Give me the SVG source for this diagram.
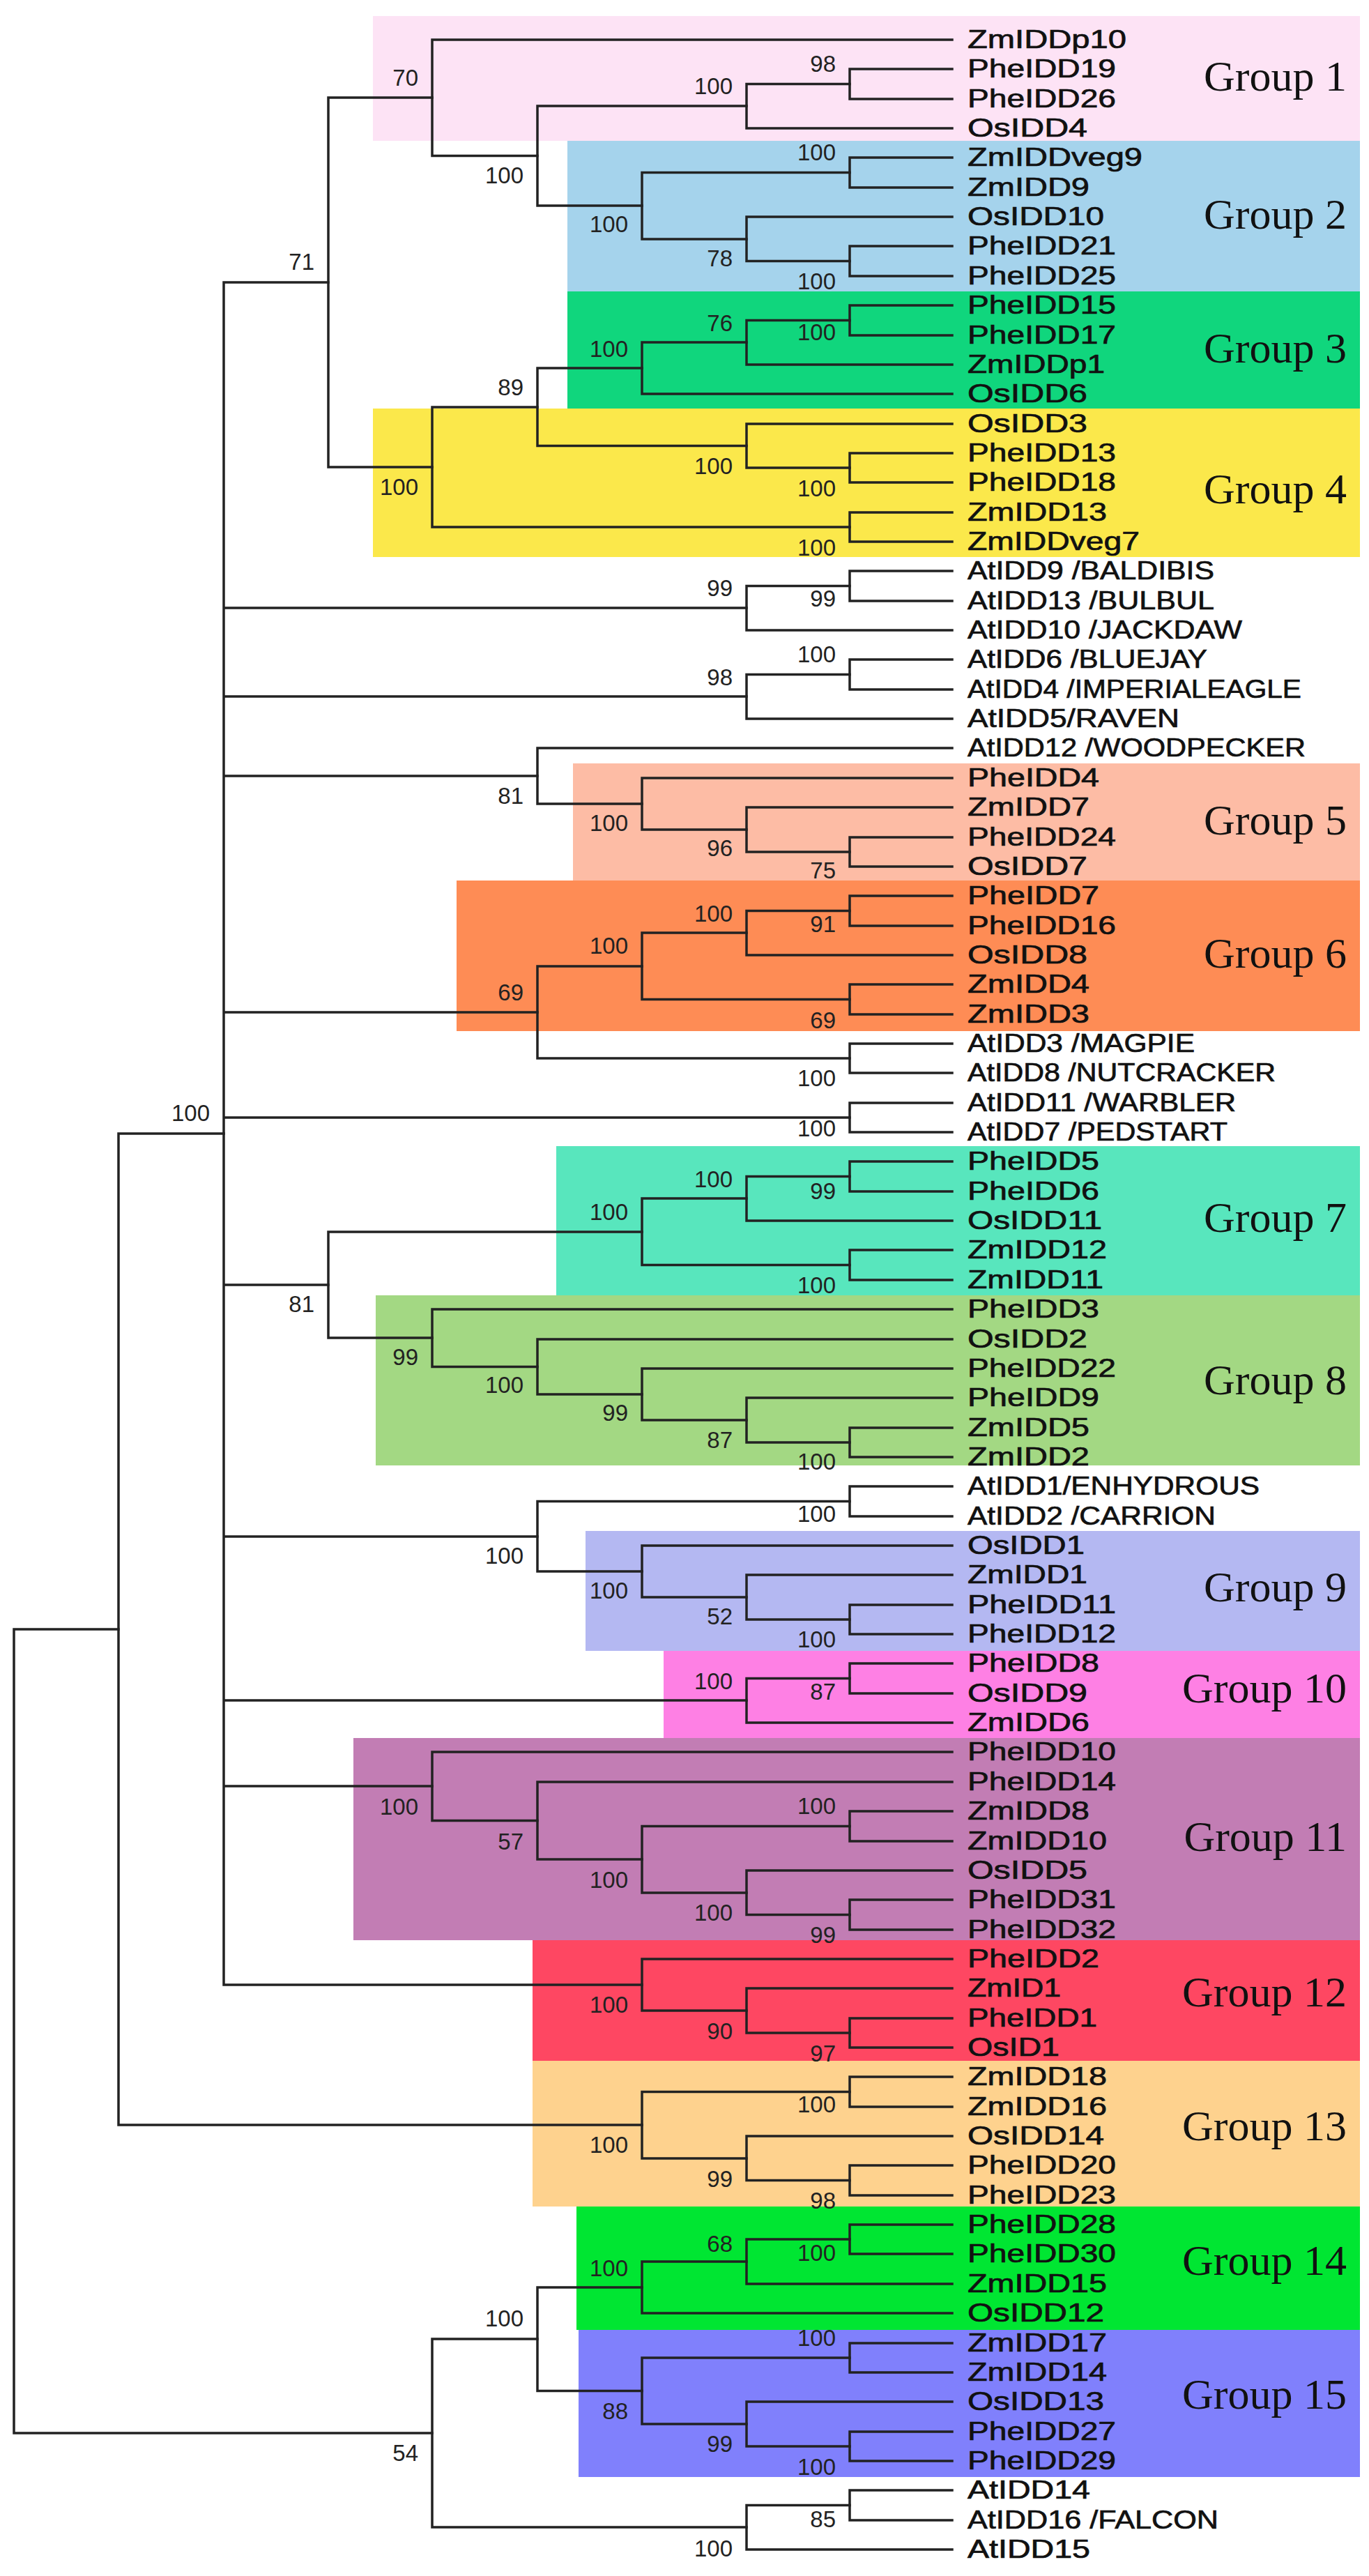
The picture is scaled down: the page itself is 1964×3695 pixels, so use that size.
<svg xmlns="http://www.w3.org/2000/svg" width="1964" height="3695" viewBox="0 0 1964 3695">
<style>
.br{fill:none;stroke:#222;stroke-width:3.5;stroke-linecap:square}
.bs{font-family:"Liberation Sans",Arial,sans-serif;font-size:33px;fill:#222;text-anchor:end}
.lf{font-family:"Liberation Sans",Arial,sans-serif;font-size:36px;fill:#111;stroke:#111;stroke-width:0.7}
.gl{font-family:"Liberation Serif","Times New Roman",serif;font-size:62px;fill:#111;text-anchor:end}
</style>
<rect width="1964" height="3695" fill="#fff"/>
<g id="boxes">
<rect id="box1" x="535" y="23" width="1416" height="179" fill="#fde3f5"/>
<rect id="box2" x="814" y="202" width="1137" height="216" fill="#a5d3ec"/>
<rect id="box3" x="814" y="418" width="1137" height="168" fill="#10d67d"/>
<rect id="box4" x="535" y="586" width="1416" height="213" fill="#fbe84b"/>
<rect id="box5" x="822" y="1095" width="1129" height="168" fill="#fdbca5"/>
<rect id="box6" x="655" y="1263" width="1296" height="216" fill="#fe8c55"/>
<rect id="box7" x="798" y="1644" width="1153" height="214" fill="#58e6bd"/>
<rect id="box8" x="539" y="1858" width="1412" height="244" fill="#a3d883"/>
<rect id="box9" x="840" y="2196" width="1111" height="172" fill="#b4b8f2"/>
<rect id="box10" x="952" y="2368" width="999" height="125" fill="#fe80e4"/>
<rect id="box11" x="507" y="2493" width="1444" height="290" fill="#c27db4"/>
<rect id="box12" x="764" y="2783" width="1187" height="173" fill="#fe4762"/>
<rect id="box13" x="764" y="2956" width="1187" height="209" fill="#fed28e"/>
<rect id="box14" x="827" y="3165" width="1124" height="177" fill="#00e632"/>
<rect id="box15" x="830" y="3342" width="1121" height="211" fill="#8080fc"/>
</g>
<g id="connectors" class="br">
<path d="M1366 99H1219V142H1366"/>
<path d="M1219 120.5H1071V184H1366"/>
<path d="M1366 226H1219V269H1366"/>
<path d="M1366 353H1219V396H1366"/>
<path d="M1366 311H1071V374.5H1219"/>
<path d="M1219 247.5H921V343H1071"/>
<path d="M1071 152H771V295H921"/>
<path d="M1366 57H620V223.5H771"/>
<path d="M1366 438H1219V481H1366"/>
<path d="M1219 459.5H1071V523H1366"/>
<path d="M1071 491H921V565H1366"/>
<path d="M1366 650H1219V692H1366"/>
<path d="M1366 608H1071V671H1219"/>
<path d="M921 528H771V639.5H1071"/>
<path d="M1366 735H1219V777H1366"/>
<path d="M771 584H620V756H1219"/>
<path d="M620 140H471V670H620"/>
<path d="M1366 819H1219V862H1366"/>
<path d="M1219 840.5H1071V904H1366"/>
<path d="M1366 946H1219V989H1366"/>
<path d="M1219 967.5H1071V1031H1366"/>
<path d="M1366 1201H1219V1243H1366"/>
<path d="M1366 1158H1071V1222H1219"/>
<path d="M1366 1116H921V1190H1071"/>
<path d="M1366 1073H771V1153H921"/>
<path d="M1366 1285H1219V1328H1366"/>
<path d="M1219 1306.5H1071V1370H1366"/>
<path d="M1366 1412H1219V1455H1366"/>
<path d="M1071 1338H921V1433.5H1219"/>
<path d="M1366 1497H1219V1539H1366"/>
<path d="M921 1386H771V1518H1219"/>
<path d="M1366 1582H1219V1624H1366"/>
<path d="M1366 1666H1219V1709H1366"/>
<path d="M1219 1687.5H1071V1751H1366"/>
<path d="M1366 1793H1219V1836H1366"/>
<path d="M1071 1719H921V1814.5H1219"/>
<path d="M1366 2048H1219V2090H1366"/>
<path d="M1366 2005H1071V2069H1219"/>
<path d="M1366 1963H921V2037H1071"/>
<path d="M1366 1921H771V2000H921"/>
<path d="M1366 1878H620V1960.5H771"/>
<path d="M921 1767H471V1919H620"/>
<path d="M1366 2132H1219V2175H1366"/>
<path d="M1366 2302H1219V2344H1366"/>
<path d="M1366 2259H1071V2323H1219"/>
<path d="M1366 2217H921V2291H1071"/>
<path d="M1219 2153.5H771V2254H921"/>
<path d="M1366 2386H1219V2429H1366"/>
<path d="M1219 2407.5H1071V2471H1366"/>
<path d="M1366 2598H1219V2641H1366"/>
<path d="M1366 2725H1219V2768H1366"/>
<path d="M1366 2683H1071V2746.5H1219"/>
<path d="M1219 2619.5H921V2715H1071"/>
<path d="M1366 2556H771V2667H921"/>
<path d="M1366 2513H620V2611.5H771"/>
<path d="M1366 2895H1219V2937H1366"/>
<path d="M1366 2852H1071V2916H1219"/>
<path d="M1366 2810H921V2884H1071"/>
<path d="M321 405V2847M321 405H471M321 872H1071M321 999H1071M321 1113H771M321 1452H771M321 1603H1219M321 1843H471M321 2204H771M321 2439H1071M321 2562H620M321 2847H921"/>
<path d="M1366 2979H1219V3022H1366"/>
<path d="M1366 3106H1219V3149H1366"/>
<path d="M1366 3064H1071V3127.5H1219"/>
<path d="M1219 3000.5H921V3096H1071"/>
<path d="M321 1626H170V3048H921"/>
<path d="M1366 3191H1219V3233H1366"/>
<path d="M1219 3212H1071V3276H1366"/>
<path d="M1071 3244H921V3318H1366"/>
<path d="M1366 3361H1219V3403H1366"/>
<path d="M1366 3488H1219V3530H1366"/>
<path d="M1366 3445H1071V3509H1219"/>
<path d="M1219 3382H921V3477H1071"/>
<path d="M921 3281H771V3429.5H921"/>
<path d="M1366 3572H1219V3615H1366"/>
<path d="M1219 3593.5H1071V3657H1366"/>
<path d="M771 3355H620V3625H1071"/>
<path d="M170 2337H20V3490H620"/>
</g>
<g id="bootstrap" class="bs">
<text x="1199" y="103">98</text>
<text x="1051" y="135">100</text>
<text x="1199" y="230">100</text>
<text x="1199" y="415">100</text>
<text x="1051" y="382">78</text>
<text x="901" y="333">100</text>
<text x="751" y="263">100</text>
<text x="600" y="123">70</text>
<text x="1199" y="488">100</text>
<text x="1051" y="475">76</text>
<text x="901" y="512">100</text>
<text x="1199" y="712">100</text>
<text x="1051" y="680">100</text>
<text x="751" y="567">89</text>
<text x="1199" y="797">100</text>
<text x="600" y="710">100</text>
<text x="451" y="387">71</text>
<text x="1199" y="870">99</text>
<text x="1051" y="855">99</text>
<text x="1199" y="950">100</text>
<text x="1051" y="983">98</text>
<text x="1199" y="1260">75</text>
<text x="1051" y="1228">96</text>
<text x="901" y="1192">100</text>
<text x="751" y="1153">81</text>
<text x="1199" y="1337">91</text>
<text x="1051" y="1322">100</text>
<text x="1199" y="1475">69</text>
<text x="901" y="1368">100</text>
<text x="1199" y="1558">100</text>
<text x="751" y="1435">69</text>
<text x="1199" y="1630">100</text>
<text x="1199" y="1720">99</text>
<text x="1051" y="1703">100</text>
<text x="1199" y="1855">100</text>
<text x="901" y="1750">100</text>
<text x="1199" y="2108">100</text>
<text x="1051" y="2077">87</text>
<text x="901" y="2038">99</text>
<text x="751" y="1998">100</text>
<text x="600" y="1958">99</text>
<text x="451" y="1882">81</text>
<text x="1199" y="2183">100</text>
<text x="1199" y="2363">100</text>
<text x="1051" y="2330">52</text>
<text x="901" y="2293">100</text>
<text x="751" y="2243">100</text>
<text x="1199" y="2438">87</text>
<text x="1051" y="2423">100</text>
<text x="1199" y="2602">100</text>
<text x="1199" y="2787">99</text>
<text x="1051" y="2755">100</text>
<text x="901" y="2708">100</text>
<text x="751" y="2653">57</text>
<text x="600" y="2603">100</text>
<text x="1199" y="2957">97</text>
<text x="1051" y="2925">90</text>
<text x="901" y="2887">100</text>
<text x="301" y="1608">100</text>
<text x="1199" y="3030">100</text>
<text x="1199" y="3168">98</text>
<text x="1051" y="3137">99</text>
<text x="901" y="3088">100</text>
<text x="1199" y="3243">100</text>
<text x="1051" y="3230">68</text>
<text x="901" y="3265">100</text>
<text x="1199" y="3365">100</text>
<text x="1199" y="3550">100</text>
<text x="1051" y="3517">99</text>
<text x="901" y="3470">88</text>
<text x="751" y="3337">100</text>
<text x="1199" y="3625">85</text>
<text x="1051" y="3667">100</text>
<text x="600" y="3530">54</text>
</g>
<g id="leaves" class="lf">
<text id="t1" x="1388" y="69" textLength="228" lengthAdjust="spacingAndGlyphs">ZmIDDp10</text>
<text id="t2" x="1388" y="111" textLength="213" lengthAdjust="spacingAndGlyphs">PheIDD19</text>
<text id="t3" x="1388" y="154" textLength="213" lengthAdjust="spacingAndGlyphs">PheIDD26</text>
<text id="t4" x="1388" y="196" textLength="172" lengthAdjust="spacingAndGlyphs">OsIDD4</text>
<text id="t5" x="1388" y="238" textLength="251" lengthAdjust="spacingAndGlyphs">ZmIDDveg9</text>
<text id="t6" x="1388" y="281" textLength="175" lengthAdjust="spacingAndGlyphs">ZmIDD9</text>
<text id="t7" x="1388" y="323" textLength="196" lengthAdjust="spacingAndGlyphs">OsIDD10</text>
<text id="t8" x="1388" y="365" textLength="213" lengthAdjust="spacingAndGlyphs">PheIDD21</text>
<text id="t9" x="1388" y="408" textLength="213" lengthAdjust="spacingAndGlyphs">PheIDD25</text>
<text id="t10" x="1388" y="450" textLength="213" lengthAdjust="spacingAndGlyphs">PheIDD15</text>
<text id="t11" x="1388" y="493" textLength="213" lengthAdjust="spacingAndGlyphs">PheIDD17</text>
<text id="t12" x="1388" y="535" textLength="197" lengthAdjust="spacingAndGlyphs">ZmIDDp1</text>
<text id="t13" x="1388" y="577" textLength="172" lengthAdjust="spacingAndGlyphs">OsIDD6</text>
<text id="t14" x="1388" y="620" textLength="172" lengthAdjust="spacingAndGlyphs">OsIDD3</text>
<text id="t15" x="1388" y="662" textLength="213" lengthAdjust="spacingAndGlyphs">PheIDD13</text>
<text id="t16" x="1388" y="704" textLength="213" lengthAdjust="spacingAndGlyphs">PheIDD18</text>
<text id="t17" x="1388" y="747" textLength="200" lengthAdjust="spacingAndGlyphs">ZmIDD13</text>
<text id="t18" x="1388" y="789" textLength="247" lengthAdjust="spacingAndGlyphs">ZmIDDveg7</text>
<text id="t19" x="1388" y="831" textLength="354" lengthAdjust="spacingAndGlyphs">AtIDD9 /BALDIBIS</text>
<text id="t20" x="1388" y="874" textLength="354" lengthAdjust="spacingAndGlyphs">AtIDD13 /BULBUL</text>
<text id="t21" x="1388" y="916" textLength="394" lengthAdjust="spacingAndGlyphs">AtIDD10 /JACKDAW</text>
<text id="t22" x="1388" y="958" textLength="344" lengthAdjust="spacingAndGlyphs">AtIDD6 /BLUEJAY</text>
<text id="t23" x="1388" y="1001" textLength="479" lengthAdjust="spacingAndGlyphs">AtIDD4 /IMPERIALEAGLE</text>
<text id="t24" x="1388" y="1043" textLength="304" lengthAdjust="spacingAndGlyphs">AtIDD5/RAVEN</text>
<text id="t25" x="1388" y="1085" textLength="485" lengthAdjust="spacingAndGlyphs">AtIDD12 /WOODPECKER</text>
<text id="t26" x="1388" y="1128" textLength="189" lengthAdjust="spacingAndGlyphs">PheIDD4</text>
<text id="t27" x="1388" y="1170" textLength="175" lengthAdjust="spacingAndGlyphs">ZmIDD7</text>
<text id="t28" x="1388" y="1213" textLength="213" lengthAdjust="spacingAndGlyphs">PheIDD24</text>
<text id="t29" x="1388" y="1255" textLength="172" lengthAdjust="spacingAndGlyphs">OsIDD7</text>
<text id="t30" x="1388" y="1297" textLength="189" lengthAdjust="spacingAndGlyphs">PheIDD7</text>
<text id="t31" x="1388" y="1340" textLength="213" lengthAdjust="spacingAndGlyphs">PheIDD16</text>
<text id="t32" x="1388" y="1382" textLength="172" lengthAdjust="spacingAndGlyphs">OsIDD8</text>
<text id="t33" x="1388" y="1424" textLength="175" lengthAdjust="spacingAndGlyphs">ZmIDD4</text>
<text id="t34" x="1388" y="1467" textLength="175" lengthAdjust="spacingAndGlyphs">ZmIDD3</text>
<text id="t35" x="1388" y="1509" textLength="326" lengthAdjust="spacingAndGlyphs">AtIDD3 /MAGPIE</text>
<text id="t36" x="1388" y="1551" textLength="442" lengthAdjust="spacingAndGlyphs">AtIDD8 /NUTCRACKER</text>
<text id="t37" x="1388" y="1594" textLength="385" lengthAdjust="spacingAndGlyphs">AtIDD11 /WARBLER</text>
<text id="t38" x="1388" y="1636" textLength="373" lengthAdjust="spacingAndGlyphs">AtIDD7 /PEDSTART</text>
<text id="t39" x="1388" y="1678" textLength="189" lengthAdjust="spacingAndGlyphs">PheIDD5</text>
<text id="t40" x="1388" y="1721" textLength="189" lengthAdjust="spacingAndGlyphs">PheIDD6</text>
<text id="t41" x="1388" y="1763" textLength="193" lengthAdjust="spacingAndGlyphs">OsIDD11</text>
<text id="t42" x="1388" y="1805" textLength="200" lengthAdjust="spacingAndGlyphs">ZmIDD12</text>
<text id="t43" x="1388" y="1848" textLength="195" lengthAdjust="spacingAndGlyphs">ZmIDD11</text>
<text id="t44" x="1388" y="1890" textLength="189" lengthAdjust="spacingAndGlyphs">PheIDD3</text>
<text id="t45" x="1388" y="1933" textLength="172" lengthAdjust="spacingAndGlyphs">OsIDD2</text>
<text id="t46" x="1388" y="1975" textLength="213" lengthAdjust="spacingAndGlyphs">PheIDD22</text>
<text id="t47" x="1388" y="2017" textLength="189" lengthAdjust="spacingAndGlyphs">PheIDD9</text>
<text id="t48" x="1388" y="2060" textLength="175" lengthAdjust="spacingAndGlyphs">ZmIDD5</text>
<text id="t49" x="1388" y="2102" textLength="175" lengthAdjust="spacingAndGlyphs">ZmIDD2</text>
<text id="t50" x="1388" y="2144" textLength="419" lengthAdjust="spacingAndGlyphs">AtIDD1/ENHYDROUS</text>
<text id="t51" x="1388" y="2187" textLength="356" lengthAdjust="spacingAndGlyphs">AtIDD2 /CARRION</text>
<text id="t52" x="1388" y="2229" textLength="168" lengthAdjust="spacingAndGlyphs">OsIDD1</text>
<text id="t53" x="1388" y="2271" textLength="172" lengthAdjust="spacingAndGlyphs">ZmIDD1</text>
<text id="t54" x="1388" y="2314" textLength="213" lengthAdjust="spacingAndGlyphs">PheIDD11</text>
<text id="t55" x="1388" y="2356" textLength="213" lengthAdjust="spacingAndGlyphs">PheIDD12</text>
<text id="t56" x="1388" y="2398" textLength="189" lengthAdjust="spacingAndGlyphs">PheIDD8</text>
<text id="t57" x="1388" y="2441" textLength="172" lengthAdjust="spacingAndGlyphs">OsIDD9</text>
<text id="t58" x="1388" y="2483" textLength="175" lengthAdjust="spacingAndGlyphs">ZmIDD6</text>
<text id="t59" x="1388" y="2525" textLength="213" lengthAdjust="spacingAndGlyphs">PheIDD10</text>
<text id="t60" x="1388" y="2568" textLength="213" lengthAdjust="spacingAndGlyphs">PheIDD14</text>
<text id="t61" x="1388" y="2610" textLength="175" lengthAdjust="spacingAndGlyphs">ZmIDD8</text>
<text id="t62" x="1388" y="2653" textLength="200" lengthAdjust="spacingAndGlyphs">ZmIDD10</text>
<text id="t63" x="1388" y="2695" textLength="172" lengthAdjust="spacingAndGlyphs">OsIDD5</text>
<text id="t64" x="1388" y="2737" textLength="213" lengthAdjust="spacingAndGlyphs">PheIDD31</text>
<text id="t65" x="1388" y="2780" textLength="213" lengthAdjust="spacingAndGlyphs">PheIDD32</text>
<text id="t66" x="1388" y="2822" textLength="189" lengthAdjust="spacingAndGlyphs">PheIDD2</text>
<text id="t67" x="1388" y="2864" textLength="134" lengthAdjust="spacingAndGlyphs">ZmID1</text>
<text id="t68" x="1388" y="2907" textLength="186" lengthAdjust="spacingAndGlyphs">PheIDD1</text>
<text id="t69" x="1388" y="2949" textLength="132" lengthAdjust="spacingAndGlyphs">OsID1</text>
<text id="t70" x="1388" y="2991" textLength="200" lengthAdjust="spacingAndGlyphs">ZmIDD18</text>
<text id="t71" x="1388" y="3034" textLength="200" lengthAdjust="spacingAndGlyphs">ZmIDD16</text>
<text id="t72" x="1388" y="3076" textLength="196" lengthAdjust="spacingAndGlyphs">OsIDD14</text>
<text id="t73" x="1388" y="3118" textLength="213" lengthAdjust="spacingAndGlyphs">PheIDD20</text>
<text id="t74" x="1388" y="3161" textLength="213" lengthAdjust="spacingAndGlyphs">PheIDD23</text>
<text id="t75" x="1388" y="3203" textLength="213" lengthAdjust="spacingAndGlyphs">PheIDD28</text>
<text id="t76" x="1388" y="3245" textLength="213" lengthAdjust="spacingAndGlyphs">PheIDD30</text>
<text id="t77" x="1388" y="3288" textLength="200" lengthAdjust="spacingAndGlyphs">ZmIDD15</text>
<text id="t78" x="1388" y="3330" textLength="196" lengthAdjust="spacingAndGlyphs">OsIDD12</text>
<text id="t79" x="1388" y="3373" textLength="200" lengthAdjust="spacingAndGlyphs">ZmIDD17</text>
<text id="t80" x="1388" y="3415" textLength="200" lengthAdjust="spacingAndGlyphs">ZmIDD14</text>
<text id="t81" x="1388" y="3457" textLength="196" lengthAdjust="spacingAndGlyphs">OsIDD13</text>
<text id="t82" x="1388" y="3500" textLength="213" lengthAdjust="spacingAndGlyphs">PheIDD27</text>
<text id="t83" x="1388" y="3542" textLength="213" lengthAdjust="spacingAndGlyphs">PheIDD29</text>
<text id="t84" x="1388" y="3584" textLength="176" lengthAdjust="spacingAndGlyphs">AtIDD14</text>
<text id="t85" x="1388" y="3627" textLength="360" lengthAdjust="spacingAndGlyphs">AtIDD16 /FALCON</text>
<text id="t86" x="1388" y="3669" textLength="176" lengthAdjust="spacingAndGlyphs">AtIDD15</text>
</g>
<g id="grouplabels" class="gl">
<text id="g1" x="1932" y="130">Group 1</text>
<text id="g2" x="1932" y="328">Group 2</text>
<text id="g3" x="1932" y="520">Group 3</text>
<text id="g4" x="1932" y="722">Group 4</text>
<text id="g5" x="1932" y="1197">Group 5</text>
<text id="g6" x="1932" y="1388">Group 6</text>
<text id="g7" x="1932" y="1767">Group 7</text>
<text id="g8" x="1932" y="2000">Group 8</text>
<text id="g9" x="1932" y="2297">Group 9</text>
<text id="g10" x="1932" y="2442">Group 10</text>
<text id="g11" x="1932" y="2655">Group 11</text>
<text id="g12" x="1932" y="2878">Group 12</text>
<text id="g13" x="1932" y="3070">Group 13</text>
<text id="g14" x="1932" y="3263">Group 14</text>
<text id="g15" x="1932" y="3455">Group 15</text>
</g>
</svg>
